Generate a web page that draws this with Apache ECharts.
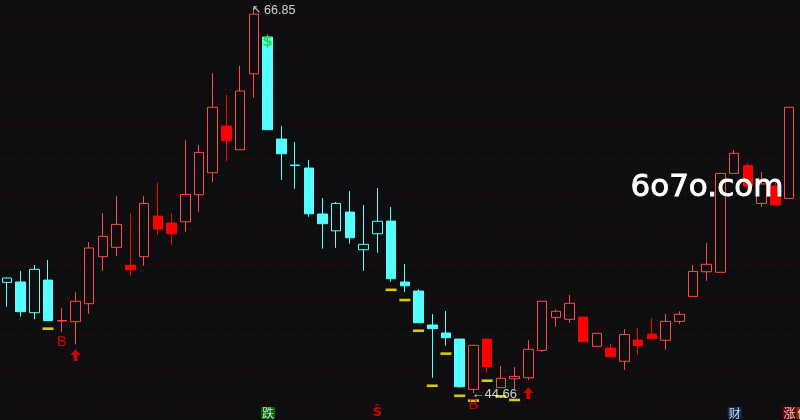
<!DOCTYPE html>
<html><head><meta charset="utf-8">
<script src="https://cdn.jsdelivr.net/npm/echarts@6/dist/echarts.min.js"></script>
<style>html,body{margin:0;padding:0;background:#0e0e10;overflow:hidden}#c{width:800px;height:420px}</style>
</head><body><div id="c"></div>
<script>
// ---- data ----
const categories = Array.from({length:58},(_,i)=>'D'+(i+1));
const opens  = [51.04,51.06,49.29,51.17,48.81,48.77,49.81,52.52,53.06,52.02,52.52,54.86,54.46,54.53,56.09,57.36,60.05,58.68,63.06,65.18,59.30,57.80,57.63,54.98,54.01,55.09,52.92,53.84,54.57,51.06,50.54,48.58,48.12,47.77,44.87,47.77,44.97,45.48,45.54,47.12,49.02,48.91,49.04,47.35,47.25,46.49,47.71,48.06,47.70,48.79,50.23,51.65,51.62,57.32,57.78,55.59,56.59,55.88];
const closes = [51.29,49.35,51.79,48.83,48.84,49.95,53.02,53.69,54.38,51.77,55.59,54.11,53.84,56.11,58.53,61.13,59.20,62.07,66.50,59.84,58.45,57.77,54.99,54.42,55.59,53.61,53.23,54.56,51.25,50.84,48.71,48.37,47.85,45.02,47.41,46.18,45.51,45.62,47.18,49.95,49.37,49.83,47.62,48.10,46.75,48.04,47.39,47.79,48.79,49.20,51.67,52.08,57.32,58.48,56.59,56.71,55.50,61.13];
const lows   = [49.63,49.06,48.91,48.83,48.16,47.47,49.23,51.71,52.57,51.42,52.00,53.77,53.19,53.96,55.11,56.82,58.03,58.68,61.68,59.84,56.95,56.44,54.82,52.98,53.03,53.27,51.71,52.75,51.08,50.48,48.71,45.54,47.39,44.97,44.66,45.83,44.97,44.89,45.41,47.04,48.48,48.71,47.62,47.35,46.70,45.99,46.85,47.79,47.16,48.65,50.23,51.13,51.62,57.32,56.24,55.40,55.50,55.88];
const highs  = [51.33,51.69,52.04,52.33,49.56,50.48,53.36,55.03,56.01,55.03,56.01,56.78,55.02,59.24,58.95,63.10,61.84,63.51,66.85,65.29,60.05,59.13,58.09,55.90,55.67,56.30,55.50,56.48,55.38,52.10,50.64,49.21,49.39,47.77,47.41,47.77,46.22,46.16,47.71,49.95,49.48,50.31,49.04,48.10,47.48,48.35,48.41,48.98,49.21,49.37,52.04,53.31,57.32,58.67,57.90,57.40,56.94,61.13];
// signal tone of each candle: r = red, c = cyan
const tones = ['c','c','c','c','r','r','r','r','r','r','r','r','r','r','r','r','r','r','r','c','c','c','c','c','c','c','c','c','c','c','c','c','c','c','r','r','r','r','r','r','r','r','r','r','r','r','r','r','r','r','r','r','r','r','r','r','r','r'];
// yellow stop marks
const stopIdx  = [3,28,29,30,31,32,33,34,35,36,37];
const stopVals = [48.37,50.61,50.02,48.25,45.08,46.93,44.50,44.22,45.37,44.47,44.26];
// buy letters and arrows
const buyIdx  = [4,34];
const buyVals = [47.62,44.00];
const arrowIdx  = [5,38];
const arrowVals = [46.85,44.66];
// extreme labels
const highIdx = 18, highVal = 66.85;
const lowIdx = 34, lowVal = 44.66;
// event tags on the bottom row
const eventIdx  = [19,27,53,57];
const eventText = ['跌','S','财','涨停'];
const eventRowVal = 43.51;
const dollarIdx = 19;

// ---- chart ----
const BG = '#0e0e10';
const kline = opens.map((o,i)=>{
  const c = closes[i], up = c >= o, red = tones[i]==='r';
  const line = red ? (up ? '#ff4848' : '#ff0000') : '#54ffff';
  const fill = up ? BG : (red ? '#ff0000' : '#54ffff');
  return {value:[o,c,lows[i],highs[i]], itemStyle:{color:fill,color0:fill,borderColor:line,borderColor0:line,borderWidth:1}};
});

const chart = echarts.init(document.getElementById('c'));
chart.setOption({
  backgroundColor: BG,
  animation: false,
  grid: {left: -1.6, width: 797.5, top: 19, height: 386},
  xAxis: {type:'category', data: categories, show:false, boundaryGap:true},
  yAxis: [
    {type:'value', min:43.97, max:66.22, show:false},
    {type:'value', min:0, max:11, interval:1, axisLine:{show:false}, axisTick:{show:false}, axisLabel:{show:false},
     splitLine:{show:true, lineStyle:{color:'#6a0000', type:[1,4], width:1}}}
  ],
  graphic: [{type:'text', left:630, top:172, z:100, style:{text:'6o7o.com', fill:'#ffffff', font:'31px "DejaVu Sans"', stroke:'#ffffff', lineWidth:0.9}}],
  series: [
    {type:'candlestick', data:kline, barWidth:10, clip:false, silent:true},
    {type:'scatter', data: stopIdx.map((x,k)=>[x,stopVals[k]]), symbol:'rect', symbolSize:[11,2.6], itemStyle:{color:'#ffff00'}, z:3, clip:false, silent:true},
    {type:'scatter', data: arrowIdx.map((x,k)=>[x,arrowVals[k]]), symbol:'path://M5,0L10,6L7,6L7,12L3,12L3,6L0,6Z', symbolSize:[10,12], itemStyle:{color:'#ff0000'}, z:4, clip:false, silent:true},
    {type:'scatter', data: buyIdx.map((x,k)=>[x,buyVals[k]]), symbolSize:0, z:5, clip:false, silent:true,
     label:{show:true, position:'inside', formatter:'B', color:'#ff0000', fontSize:15, fontFamily:'Liberation Sans'}},
    {type:'scatter', data:[[highIdx,highVal]], symbolSize:0, z:5, clip:false, silent:true,
     label:{show:true, position:'inside', align:'left', verticalAlign:'middle', offset:[-2,2],
       formatter:'{a|↖}{b|'+highVal.toFixed(2)+'}',
       rich:{a:{color:'#ffffff', fontSize:11, fontFamily:'DejaVu Sans', padding:[0,3,0,0]}, b:{color:'#ffffff', fontSize:12.5, fontFamily:'Liberation Sans'}}}},
    {type:'scatter', data:[[lowIdx,lowVal]], symbolSize:0, z:5, clip:false, silent:true,
     label:{show:true, position:'inside', align:'left', verticalAlign:'middle', offset:[-2,1], formatter:'←'+lowVal.toFixed(2), color:'#ffffff', fontSize:13, fontFamily:'Liberation Sans'}},
    {type:'scatter', data:[[dollarIdx,highs[dollarIdx]]], symbolSize:0, z:5, clip:false, silent:true,
     label:{show:true, position:'inside', offset:[0,7], formatter:'$', color:'#22cc22', fontSize:15, fontWeight:'bold', fontFamily:'DejaVu Sans'}},
    {type:'scatter', data: eventIdx.map((x,k)=>({value:[x,eventRowVal], name:eventText[k]})), symbolSize:0, z:6, clip:false, silent:true,
     label:{show:true, position:'inside', formatter:(p)=>{
        if (p.name==='涨停') return '{a|涨}{b|停}';
        if (p.name==='S') return '{s|Ŝ}';
        return '{t'+(p.name==='跌'?'1':'2')+'|'+p.name+'}';
      },
      align:'left', offset:[-6.5,0],
      rich:{
        a:{backgroundColor:'#8a0000', color:'#ffffff', fontSize:12, lineHeight:14, padding:[0,1], fontFamily:'Noto Sans CJK SC'},
        b:{backgroundColor:'#8b4a10', color:'#ffffff', fontSize:12, lineHeight:14, padding:[0,1], fontFamily:'Noto Sans CJK SC'},
        t1:{backgroundColor:'#008000', color:'#ffffff', fontSize:12, lineHeight:14, padding:[0,1], fontFamily:'Noto Sans CJK SC'},
        t2:{backgroundColor:'#0b3468', color:'#ffffff', fontSize:12, lineHeight:14, padding:[0,1], fontFamily:'Noto Sans CJK SC'},
        s:{color:'#ff0000', fontSize:13, fontWeight:'bold', fontFamily:'DejaVu Sans', padding:[0,0,0,2]}
      }}}
  ]
});
</script></body></html>
